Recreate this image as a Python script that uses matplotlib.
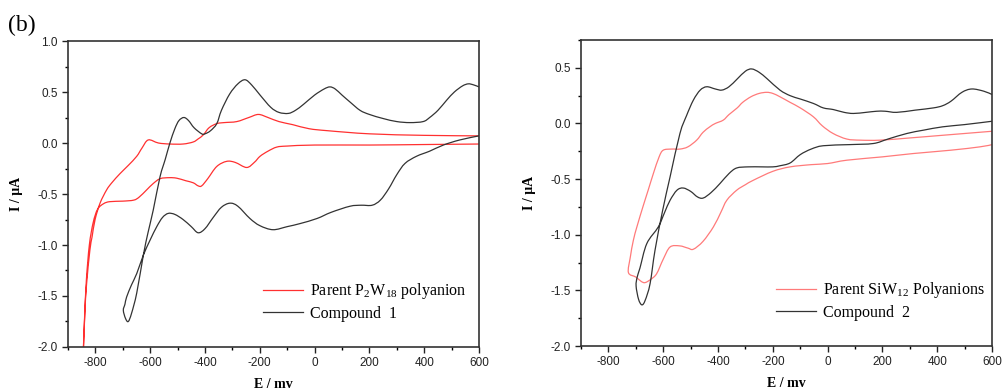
import numpy as np
import matplotlib
matplotlib.use("Agg")
import matplotlib.pyplot as plt
from matplotlib.path import Path
from matplotlib.patches import PathPatch
from matplotlib.ticker import MultipleLocator, FormatStrFormatter

# ---- data (E in mV, I in uA) ----
# left panel, parent P2W18 polyanion (upper branch right->left, then lower branch back)
e_p2w18 = [600, 400, 200, 50, -20, -80, -130, -170, -205, -240, -284, -330, -357, -385,
           -406, -425, -443, -480, -528, -570, -607, -630, -649, -680, -710, -740, -759,
           -783, -801, -812, -820, -832, -838, -844,
           -840, -833, -822, -808, -792, -770, -747, -700, -660, -640, -613, -590, -564,
           -530, -503, -470, -443, -425, -412, -390, -357, -321, -290, -248, -220, -199,
           -170, -138, -100, 0, 200, 400, 600]
i_p2w18 = [0.07, 0.075, 0.09, 0.12, 0.14, 0.18, 0.21, 0.25, 0.28, 0.25, 0.21, 0.20, 0.19, 0.15,
           0.08, 0.04, 0.01, -0.01, -0.01, 0.0, 0.03, -0.05, -0.13, -0.22, -0.30, -0.39, -0.46,
           -0.59, -0.75, -0.92, -1.05, -1.38, -1.64, -2.05,
           -1.75, -1.35, -1.0, -0.78, -0.65, -0.595, -0.575, -0.57, -0.56, -0.53, -0.46, -0.40, -0.35,
           -0.34, -0.345, -0.37, -0.39, -0.42, -0.42, -0.35, -0.23, -0.18, -0.19, -0.24, -0.19, -0.13,
           -0.08, -0.04, -0.03, -0.02, -0.02, -0.015, -0.01]

# left panel, compound 1
e_cmp1 = [600, 580, 561, 540, 510, 482, 450, 420, 396, 348, 300, 250, 200, 166, 130, 100, 75, 56,
          35, 0, -40, -70, -96, -130, -160, -199, -230, -254, -280, -310, -340, -357, -380, -400,
          -412, -440, -460, -477, -495, -510, -528, -545, -564, -589, -608, -625, -649, -668, -680,
          -690, -698, -692, -686, -668, -649, -625, -600, -576, -555, -534, -510, -480, -450, -425,
          -400, -370, -340, -309, -280, -236, -200, -152, -100, -53, 9, 60, 129, 170, 210, 240, 270,
          300, 330, 372, 420, 470, 530, 600]
i_cmp1 = [0.55, 0.57, 0.58, 0.56, 0.50, 0.42, 0.32, 0.25, 0.21, 0.20, 0.21, 0.24, 0.28, 0.32, 0.40,
          0.47, 0.53, 0.55, 0.53, 0.47, 0.38, 0.32, 0.29, 0.30, 0.35, 0.47, 0.57, 0.62, 0.58, 0.48,
          0.32, 0.19, 0.12, 0.09, 0.09, 0.15, 0.22, 0.25, 0.22, 0.14, 0.0, -0.16, -0.33, -0.66, -0.88,
          -1.10, -1.47, -1.67, -1.75, -1.72, -1.64, -1.58, -1.51, -1.39, -1.28, -1.10, -0.95, -0.82,
          -0.73, -0.69, -0.70, -0.75, -0.82, -0.88, -0.84, -0.73, -0.63, -0.59, -0.62, -0.74, -0.81,
          -0.85, -0.82, -0.79, -0.74, -0.68, -0.62, -0.61, -0.61, -0.56, -0.45, -0.31, -0.20, -0.13,
          -0.08, -0.02, 0.03, 0.07]

# right panel, parent SiW12 polyanions
e_siw12 = [600, 500, 400, 300, 191, 120, 70, 20, -20, -52, -100, -137, -174, -200, -222, -250,
           -280, -310, -330, -360, -381, -410, -430, -455, -478, -510, -539, -570, -600, -615,
           -636, -655, -673, -695, -709, -720, -727, -700, -680, -666, -645, -624, -600, -575,
           -540, -510, -490, -455, -417, -390, -368, -332, -300, -271, -200, -137, -60, 0, 70,
           200, 313, 450, 556, 600]
i_siw12 = [-0.07, -0.09, -0.11, -0.13, -0.15, -0.15, -0.14, -0.09, -0.02, 0.06, 0.14, 0.19, 0.24,
           0.27, 0.28, 0.27, 0.24, 0.19, 0.14, 0.08, 0.03, 0.0, -0.03, -0.08, -0.15, -0.21, -0.23,
           -0.23, -0.24, -0.30, -0.45, -0.60, -0.74, -0.92, -1.05, -1.20, -1.34, -1.38, -1.42,
           -1.43, -1.40, -1.35, -1.22, -1.11, -1.10, -1.12, -1.13, -1.06, -0.93, -0.80, -0.69,
           -0.60, -0.55, -0.51, -0.43, -0.39, -0.37, -0.36, -0.33, -0.30, -0.27, -0.24, -0.21, -0.19]

# right panel, compound 2
e_cmp2 = [600, 570, 526, 490, 450, 420, 386, 320, 252, 210, 179, 140, 94, 60, 21, -16, -52, -100,
          -137, -174, -220, -250, -277, -300, -330, -360, -386, -410, -441, -465, -490, -515, -539,
          -575, -602, -630, -648, -666, -678, -690, -699, -695, -685, -660, -618, -595, -575, -550,
          -527, -500, -475, -454, -425, -393, -360, -332, -290, -240, -200, -174, -137, -100, -60,
          -16, 80, 167, 220, 289, 350, 420, 500, 600]
i_cmp2 = [0.26, 0.29, 0.31, 0.28, 0.20, 0.16, 0.14, 0.12, 0.10, 0.11, 0.11, 0.10, 0.09, 0.10, 0.125,
          0.14, 0.18, 0.22, 0.25, 0.30, 0.40, 0.46, 0.49, 0.47, 0.40, 0.33, 0.30, 0.31, 0.33, 0.30,
          0.21, 0.07, -0.09, -0.48, -0.78, -1.14, -1.44, -1.59, -1.63, -1.58, -1.46, -1.38, -1.30,
          -1.08, -0.93, -0.80, -0.69, -0.60, -0.58, -0.61, -0.66, -0.67, -0.62, -0.54, -0.45, -0.40,
          -0.39, -0.39, -0.39, -0.38, -0.355, -0.28, -0.23, -0.20, -0.19, -0.18, -0.14, -0.09, -0.06,
          -0.03, -0.01, 0.02]

plt.rcParams['axes.unicode_minus'] = False
plt.rcParams['font.family'] = 'Liberation Sans'
plt.rcParams['mathtext.fontset'] = 'custom'
plt.rcParams['mathtext.rm'] = 'Liberation Serif'

black = "#333333"


def smooth_trace(ax, xs, ys, color, label):
    # draw the read points as a smooth bezier path (catmull-rom style control points)
    p = np.column_stack([xs, ys]).astype(float)
    verts = [p[0]]
    codes = [Path.MOVETO]
    for k in range(len(p) - 1):
        p0 = p[k - 1] if k > 0 else p[k]
        p3 = p[k + 2] if k + 2 < len(p) else p[k + 1]
        c1 = p[k] + (p[k + 1] - p0) / 6.0
        c2 = p[k + 1] - (p3 - p[k]) / 6.0
        verts += [c1, c2, p[k + 1]]
        codes += [Path.CURVE4] * 3
    ax.add_patch(PathPatch(Path(verts, codes), fill=False, edgecolor=color, lw=0.9))
    ax.plot([], [], color=color, lw=0.9, label=label)


fig = plt.figure(figsize=(10.04, 3.92), dpi=100)
ax1 = fig.add_axes([0.0677, 0.1148, 0.4094, 0.7806])
ax2 = fig.add_axes([0.5787, 0.1173, 0.4094, 0.7806])

smooth_trace(ax1, e_p2w18, i_p2w18, "#ff3030", r"Parent P$_\mathregular{2}$W$_\mathregular{18}$ polyanion")
smooth_trace(ax1, e_cmp1, i_cmp1, black, "Compound  1")
ax1.set_ylim(-2.0, 1.0)

smooth_trace(ax2, e_siw12, i_siw12, "#ff7a7a", r"Parent SiW$_\mathregular{12}$ Polyanions")
smooth_trace(ax2, e_cmp2, i_cmp2, black, "Compound  2")
ax2.set_ylim(-2.0, 0.75)

for ax in (ax1, ax2):
    ax.set_xlim(-900, 600)
    ax.xaxis.set_major_locator(MultipleLocator(200))
    ax.xaxis.set_minor_locator(MultipleLocator(100))
    ax.yaxis.set_major_locator(MultipleLocator(0.5))
    ax.yaxis.set_minor_locator(MultipleLocator(0.25))
    ax.yaxis.set_major_formatter(FormatStrFormatter('%.1f'))
    ax.tick_params(which='major', direction='out', length=4, width=1, labelsize=8.5, colors='#222222')
    ax.tick_params(which='minor', direction='out', length=2.5, width=1)
    for s in ax.spines.values():
        s.set_linewidth(1.2)
        s.set_color('#333333')
    ax.set_xlabel("E / mv", family='Liberation Serif', weight='bold', fontsize=10, labelpad=6)
    ax.set_ylabel("I / μA", family='Liberation Serif', weight='bold', fontsize=10, labelpad=10)
    ax.legend(loc='upper left', bbox_to_anchor=(0.475, 0.215), frameon=False,
              prop={'family': 'Liberation Serif', 'size': 11.5}, handlelength=2.5,
              handletextpad=0.45, labelspacing=0.3, borderpad=0, borderaxespad=0)

fig.text(0.008, 0.962, "(b)", family='Liberation Serif', fontsize=17, va='top')

fig.savefig("out.png", dpi=100)
